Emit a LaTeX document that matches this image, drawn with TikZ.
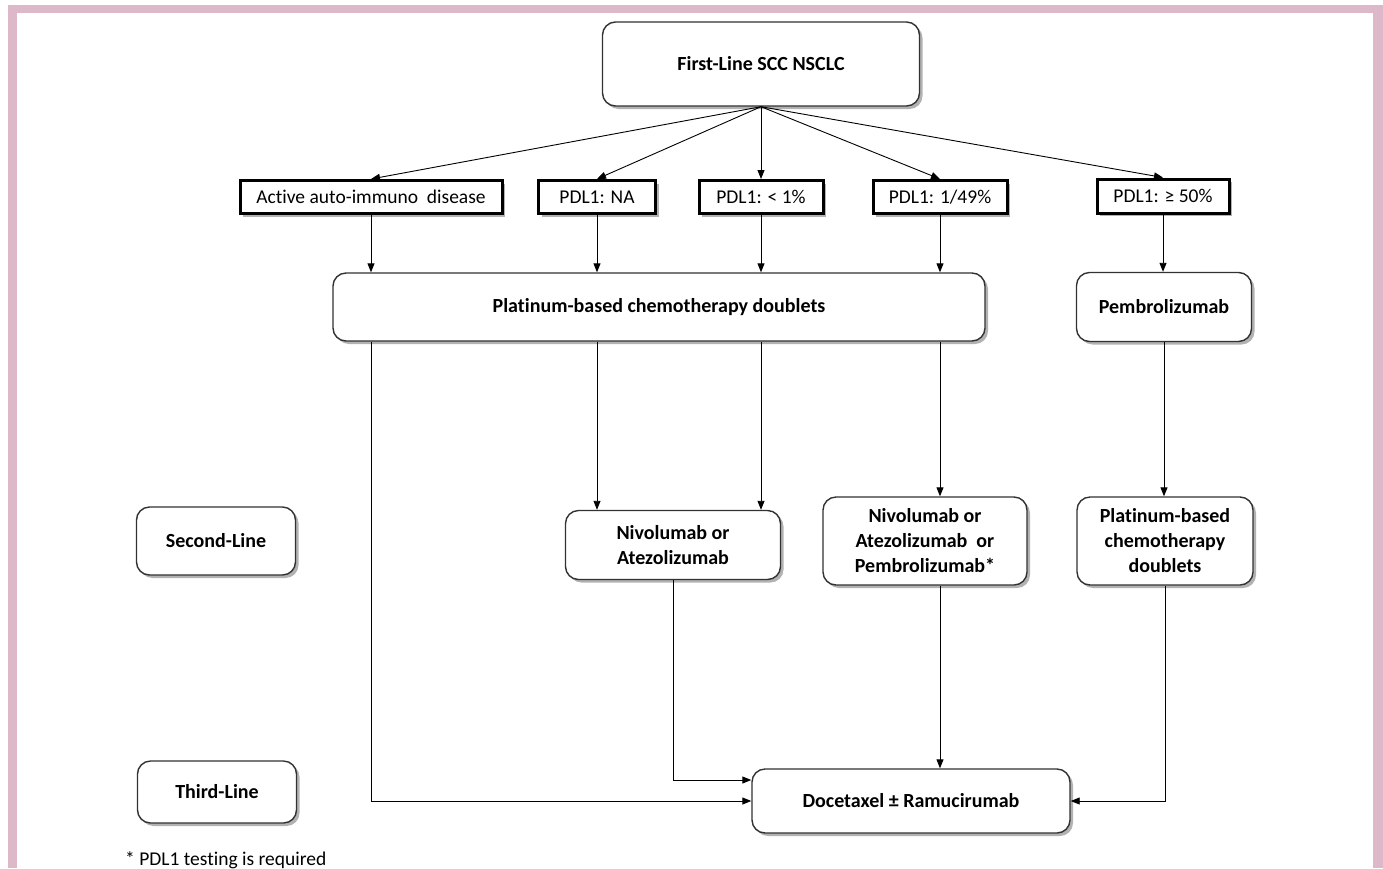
\documentclass[tikz,border=0pt]{standalone}
\usepackage{fontspec}
\setmainfont{Carlito}[Ligatures=NoCommon]
\usetikzlibrary{arrows.meta,shadows}
\definecolor{pinkframe}{RGB}{221,184,200}
\definecolor{boxline}{RGB}{50,50,50}
\tikzset{
  shade/.style={drop shadow={shadow xshift=3pt,shadow yshift=-3pt,fill=black,opacity=0.3}},
  rbox/.style={draw=boxline,line width=1.4pt,rounded corners=13pt,fill=white,shade,
    font=\fontsize{20}{25}\selectfont\bfseries,align=center,inner sep=2pt},
  sbox/.style={draw=black,line width=3pt,fill=white,shade,
    font=\fontsize{19.5}{23}\selectfont,align=center,inner sep=2pt},
  arr/.style={draw=black,line width=0.9pt,-{Triangle[length=9pt,width=7pt]}},
}
\begin{document}
\begin{tikzpicture}[x=1pt,y=-1pt]
\useasboundingbox (0,0) rectangle (1383,868);
\fill[white] (0,0) rectangle (1383,868);
\fill[pinkframe] (8,5) rectangle (1383,13);
\fill[pinkframe] (8,5) rectangle (17,868);
\fill[pinkframe] (1373,5) rectangle (1383,868);
% nodes
\node[rbox,minimum width=317pt,minimum height=84pt] (first) at (761,64) {First-Line SCC NSCLC};
\node[sbox,minimum width=262pt,minimum height=33pt] (act) at (371,197) {Active auto-immuno~ disease};
\node[sbox,minimum width=117pt,minimum height=33pt] (na) at (597,197) {PDL1: NA};
\node[sbox,minimum width=124pt,minimum height=33pt] (lt1) at (761,197) {PDL1: < 1\%};
\node[sbox,minimum width=134pt,minimum height=33pt] (p149) at (940,197) {PDL1: 1/49\%};
\node[sbox,minimum width=132pt,minimum height=34pt] (ge50) at (1163,196) {PDL1: ≥ 50\%};
\node[rbox,minimum width=652pt,minimum height=68pt] (plat) at (659,307) {Platinum-based chemotherapy doublets};
\node[rbox,minimum width=175pt,minimum height=69pt] (pemb) at (1164,307) {Pembrolizumab};
\node[rbox,minimum width=159pt,minimum height=68pt] (second) at (216,541) {Second-Line};
\node[rbox,minimum width=215pt,minimum height=69pt] (niv1) at (673,545) {Nivolumab or\\Atezolizumab};
\node[rbox,minimum width=204pt,minimum height=88pt] (niv2) at (925,541) {Nivolumab or\\Atezolizumab~ or\\Pembrolizumab*};
\node[rbox,minimum width=176pt,minimum height=88pt] (plat2) at (1165,541) {Platinum-based\\chemotherapy\\doublets};
\node[rbox,minimum width=159pt,minimum height=62pt] (third) at (217,792) {Third-Line};
\node[rbox,minimum width=318pt,minimum height=64pt] (doc) at (911,801) {Docetaxel ± Ramucirumab};
\node[anchor=base west,inner sep=0pt,font=\fontsize{19.5}{23}\selectfont] (foot) at (125,865) {* PDL1 testing is required};
% connectors
\foreach \n in {act,na,lt1,p149,ge50} \draw[arr] (first.south) -- (\n.north);
\foreach \n in {act,na,lt1,p149} \draw[arr] (\n.south) -- (\n.south |- plat.north);
\draw[arr] (ge50.south) -- (ge50.south |- pemb.north);
\draw[arr] (plat.south -| na.south) -- (na.south |- niv1.north);
\draw[arr] (plat.south -| lt1.south) -- (lt1.south |- niv1.north);
\draw[arr] (plat.south -| p149.south) -- (p149.south |- niv2.north);
\draw[arr] (pemb.south) -- (pemb.south |- plat2.north);
\draw[arr] (niv2.south -| p149.south) -- (p149.south |- doc.north);
\draw[arr] (niv1.south) |- ([yshift=21pt]doc.west);
\draw[arr] (plat.south -| act.south) |- (doc.west);
\draw[arr] (plat2.south) |- (doc.east);
\end{tikzpicture}
\end{document}
